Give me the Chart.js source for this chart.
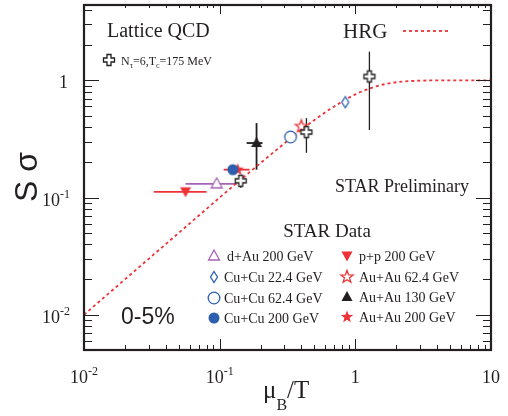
<!DOCTYPE html>
<html>
<head>
<meta charset="utf-8">
<title>S sigma vs muB/T</title>
<script src="https://cdn.jsdelivr.net/npm/chart.js@4.4.1/dist/chart.umd.min.js"></script>
<style>
  html, body { margin: 0; padding: 0; background: #fff; }
  canvas { display: block; }
</style>
</head>
<body>
<canvas id="chart" width="508" height="416"></canvas>
<script>
// STAR data points (0-5%)
const starNames = ['d+Au 200 GeV', 'Cu+Cu 22.4 GeV', 'Cu+Cu 62.4 GeV', 'Cu+Cu 200 GeV',
                   'p+p 200 GeV', 'Au+Au 62.4 GeV', 'Au+Au 130 GeV', 'Au+Au 200 GeV'];
const starX   = [0.095, 0.843, 0.333, 0.125, 0.056, 0.400, 0.187, 0.136];
const starY   = [0.131, 0.651, 0.329, 0.173, 0.112, 0.405, 0.292, 0.173];
const starXLo = [0.056, null, null, null, 0.0327, null, 0.158, 0.107];
const starXHi = [0.133, null, null, null, 0.080, null, 0.207, 0.166];
const starYLo = [null, null, null, null, null, null, 0.173, null];
const starYHi = [null, null, null, null, null, null, 0.432, null];

// Lattice QCD points (Nt=6, Tc=175 MeV)
const latX   = [0.143, 0.436, 1.27];
const latY   = [0.139, 0.362, 1.08];
const latYLo = [0.121, 0.241, 0.377];
const latYHi = [0.154, 0.476, 1.76];

// HRG curve
const hrgX = [0.01, 0.02, 0.03, 0.05, 0.07, 0.1, 0.15, 0.2, 0.3, 0.4, 0.5, 0.7, 1.0, 1.3, 1.7, 2.2, 3, 4, 6, 10];
const hrgY = [0.01, 0.02, 0.03, 0.05, 0.07, 0.1, 0.149, 0.197, 0.29, 0.38, 0.46, 0.60, 0.76, 0.86, 0.935, 0.975, 0.995, 1.0, 1.0, 1.0];

// axis ticks
const xTickValues = [0.01, 0.1, 1, 10];
const xTickLabels = [['10', '-2'], ['10', '-1'], ['1', ''], ['10', '']];
const yTickValues = [0.01, 0.1, 1];
const yTickLabels = [['10', '-2'], ['10', '-1'], ['1', '']];

const RED = '#ee3237', PURPLE = '#a663b8', BLUE = '#2d5fae', INK = '#231f20';
const SERIF = '"Liberation Serif", "Times New Roman", serif';
const SANS = '"Liberation Sans", Arial, sans-serif';

const markerKinds  = ['triUpOpen', 'diamondOpen', 'circleOpen', 'circle', 'triDown', 'starOpen', 'triUp', 'star'];
const markerColors = [PURPLE, BLUE, BLUE, BLUE, RED, RED, INK, RED];

// small canvases used as point styles (and in the legend)
function makeMarker(kind, color) {
    const s = 18, m = 9;
    const c = document.createElement('canvas');
    c.width = s; c.height = s;
    const g = c.getContext('2d');
    g.lineWidth = 1.3;
    g.strokeStyle = color;
    g.fillStyle = color;
    g.beginPath();
    if (kind === 'triUpOpen' || kind === 'triUp') {
        g.moveTo(m, m - 6); g.lineTo(m + 5.5, m + 4); g.lineTo(m - 5.5, m + 4); g.closePath();
    } else if (kind === 'triDown') {
        g.moveTo(m - 5.5, m - 4.5); g.lineTo(m + 5.5, m - 4.5); g.lineTo(m, m + 5.5); g.closePath();
    } else if (kind === 'diamondOpen') {
        g.moveTo(m, m - 5.5); g.lineTo(m + 3.5, m); g.lineTo(m, m + 5.5); g.lineTo(m - 3.5, m); g.closePath();
    } else if (kind === 'circleOpen' || kind === 'circle') {
        g.arc(m, m, kind === 'circle' ? 5.5 : 5.8, 0, Math.PI * 2);
    } else if (kind === 'starOpen' || kind === 'star') {
        for (let i = 0; i < 10; i++) {
            const r = i % 2 === 0 ? 6.5 : 2.7;
            const a = -Math.PI / 2 + i * Math.PI / 5;
            if (i === 0) g.moveTo(m + r * Math.cos(a), m + r * Math.sin(a));
            else g.lineTo(m + r * Math.cos(a), m + r * Math.sin(a));
        }
        g.closePath();
    } else if (kind === 'crossOpen') {
        const a = 2, b = 5.5;
        g.moveTo(m - a, m - b); g.lineTo(m + a, m - b); g.lineTo(m + a, m - a); g.lineTo(m + b, m - a);
        g.lineTo(m + b, m + a); g.lineTo(m + a, m + a); g.lineTo(m + a, m + b); g.lineTo(m - a, m + b);
        g.lineTo(m - a, m + a); g.lineTo(m - b, m + a); g.lineTo(m - b, m - a); g.lineTo(m - a, m - a);
        g.closePath();
    }
    if (kind === 'triUp' || kind === 'triDown' || kind === 'circle' || kind === 'star') {
        g.fill();
    } else {
        g.fillStyle = '#fff';
        g.fill();
        g.stroke();
    }
    return c;
}

const markers = markerKinds.map((k, i) => makeMarker(k, markerColors[i]));
const crossMarker = makeMarker('crossOpen', INK);

// error bars, drawn through the scales before the points
const errorBars = {
    id: 'errorBars',
    beforeDatasetsDraw(chart) {
        const ctx = chart.ctx, xs = chart.scales.x, ys = chart.scales.y;
        ctx.save();
        starX.forEach((x, i) => {
            ctx.strokeStyle = markerColors[i];
            ctx.lineWidth = 1.8;
            const px = xs.getPixelForValue(x), py = ys.getPixelForValue(starY[i]);
            if (starXLo[i] !== null) {
                ctx.beginPath();
                ctx.moveTo(xs.getPixelForValue(starXLo[i]), py);
                ctx.lineTo(xs.getPixelForValue(starXHi[i]), py);
                ctx.stroke();
            }
            if (starYLo[i] !== null) {
                ctx.beginPath();
                ctx.moveTo(px, ys.getPixelForValue(starYLo[i]));
                ctx.lineTo(px, ys.getPixelForValue(starYHi[i]));
                ctx.stroke();
            }
        });
        ctx.strokeStyle = INK;
        ctx.lineWidth = 1.3;
        latX.forEach((x, i) => {
            const px = xs.getPixelForValue(x);
            ctx.beginPath();
            ctx.moveTo(px, ys.getPixelForValue(latYLo[i]));
            ctx.lineTo(px, ys.getPixelForValue(latYHi[i]));
            ctx.stroke();
        });
        ctx.restore();
    }
};

function drawPow(ctx, base, exp, x, y, align, size) {
    ctx.font = size + 'px ' + SERIF;
    const w1 = ctx.measureText(base).width;
    ctx.font = Math.round(size * 0.65) + 'px ' + SERIF;
    const w2 = exp ? ctx.measureText(exp).width : 0;
    const total = w1 + w2;
    let start = align === 'center' ? x - total / 2 : x - total;
    ctx.textAlign = 'left';
    ctx.font = size + 'px ' + SERIF;
    ctx.fillText(base, start, y);
    if (exp) {
        ctx.font = Math.round(size * 0.65) + 'px ' + SERIF;
        ctx.fillText(exp, start + w1, y - 8);
    }
}

// frame, inward ticks, labels and annotations
const frame = {
    id: 'frame',
    afterDraw(chart) {
        const ctx = chart.ctx, xs = chart.scales.x, ys = chart.scales.y;
        const { left, right, top, bottom } = chart.chartArea;
        ctx.save();
        ctx.strokeStyle = INK;
        ctx.fillStyle = INK;

        // ticks
        ctx.lineWidth = 1;
        ctx.beginPath();
        for (let d = -2; d <= 1; d++) {
            for (let k = 1; k <= 9; k++) {
                const v = k * Math.pow(10, d);
                if (v < xs.min || v > xs.max) continue;
                const px = Math.round(xs.getPixelForValue(v)) + 0.5;
                const len = k === 1 ? 11 : 5;
                ctx.moveTo(px, bottom); ctx.lineTo(px, bottom - len);
                ctx.moveTo(px, top); ctx.lineTo(px, top + len - 2);
            }
        }
        for (let d = -3; d <= 0; d++) {
            for (let k = 1; k <= 9; k++) {
                const v = k * Math.pow(10, d);
                if (v < ys.min || v > ys.max) continue;
                const py = Math.round(ys.getPixelForValue(v)) + 0.5;
                const len = k === 1 ? 15 : 8;
                ctx.moveTo(left, py); ctx.lineTo(left + len, py);
                ctx.moveTo(right, py); ctx.lineTo(right - len, py);
            }
        }
        ctx.stroke();

        ctx.lineWidth = 2.2;
        ctx.strokeRect(left, top, right - left, bottom - top);

        // tick labels
        ctx.textBaseline = 'alphabetic';
        xTickValues.forEach((v, i) => {
            drawPow(ctx, xTickLabels[i][0], xTickLabels[i][1], xs.getPixelForValue(v), 383, 'center', 18);
        });
        yTickValues.forEach((v, i) => {
            const shift = yTickLabels[i][1] ? 0 : -2;
            drawPow(ctx, yTickLabels[i][0], yTickLabels[i][1], 70 + shift, ys.getPixelForValue(v) + 8, 'right', 18);
        });

        // axis titles
        ctx.textAlign = 'left';
        ctx.font = '25px ' + SERIF;
        ctx.fillText('\u03bc', 263, 398);
        const wmu = ctx.measureText('\u03bc').width;
        ctx.font = '16px ' + SERIF;
        ctx.fillText('B', 263 + wmu, 410);
        const wb = ctx.measureText('B').width;
        ctx.font = '25px ' + SERIF;
        ctx.fillText('/T', 263 + wmu + wb, 398);

        ctx.save();
        ctx.translate(37, 177);
        ctx.rotate(-Math.PI / 2);
        ctx.textAlign = 'center';
        ctx.font = '32px ' + SANS;
        ctx.fillText('S \u03c3', 0, 0);
        ctx.restore();

        // annotations
        ctx.textAlign = 'left';
        ctx.font = '20px ' + SERIF;
        ctx.fillText('Lattice QCD', 107, 37);
        ctx.font = '21px ' + SERIF;
        ctx.fillText('HRG', 343, 38);
        ctx.font = '18px ' + SERIF;
        ctx.fillText('STAR Preliminary', 335, 192);
        ctx.font = '19px ' + SERIF;
        ctx.textAlign = 'center';
        ctx.fillText('STAR Data', 327, 237);
        ctx.textAlign = 'left';
        ctx.font = '23px ' + SANS;
        ctx.fillText('0-5%', 121, 324);

        // HRG legend line
        ctx.strokeStyle = RED;
        ctx.lineWidth = 1.8;
        ctx.setLineDash([3, 3]);
        ctx.beginPath();
        ctx.moveTo(403, 31); ctx.lineTo(451, 31);
        ctx.stroke();
        ctx.setLineDash([]);

        // lattice legend entry
        ctx.drawImage(crossMarker, 109 - 9, 60 - 9);
        let tx = 121;
        const pieces = [['N', 12, 0], ['\u03c4', 8, 3], ['=6,T', 12, 0], ['c', 8, 3], ['=175 MeV', 12, 0]];
        pieces.forEach(p => {
            ctx.font = p[1] + 'px ' + SERIF;
            ctx.fillText(p[0], tx, 65 + p[2]);
            tx += ctx.measureText(p[0]).width;
        });

        // STAR legend, two columns
        const colX = [214, 347], colText = [224, 359];
        const rowY = [[256, 277, 298, 318], [256, 277, 297, 317]];
        ctx.font = '14px ' + SERIF;
        starNames.forEach((name, i) => {
            const col = i < 4 ? 0 : 1, row = i % 4;
            const my = rowY[col][row];
            ctx.drawImage(markers[i], colX[col] - 9, my - 9);
            ctx.fillText(name, colText[col] + (i === 0 ? 3 : 0), my + 5);
        });
        ctx.restore();
    }
};

const datasets = starX.map((x, i) => ({
    label: starNames[i],
    data: [{ x: x, y: starY[i] }],
    pointStyle: markers[i],
    order: 1
}));
datasets.push({
    label: 'Lattice QCD',
    data: latX.map((x, i) => ({ x: x, y: latY[i] })),
    pointStyle: crossMarker,
    order: 0
});
datasets.push({
    label: 'HRG',
    data: hrgX.map((x, i) => ({ x: x, y: hrgY[i] })),
    showLine: true,
    borderColor: RED,
    borderWidth: 1.8,
    borderDash: [3, 3],
    pointRadius: 0,
    cubicInterpolationMode: 'monotone',
    order: 10
});

new Chart(document.getElementById('chart'), {
    type: 'scatter',
    data: { datasets: datasets },
    options: {
        responsive: false,
        animation: false,
        devicePixelRatio: 1,
        layout: { padding: { left: 84, right: 17, top: 3, bottom: 66 } },
        plugins: { legend: { display: false }, tooltip: { enabled: false } },
        scales: {
            x: { type: 'logarithmic', min: 0.01, max: 10, display: false },
            y: { type: 'logarithmic', min: 0.005, max: 4.4, display: false }
        }
    },
    plugins: [errorBars, frame]
});
</script>
</body>
</html>
